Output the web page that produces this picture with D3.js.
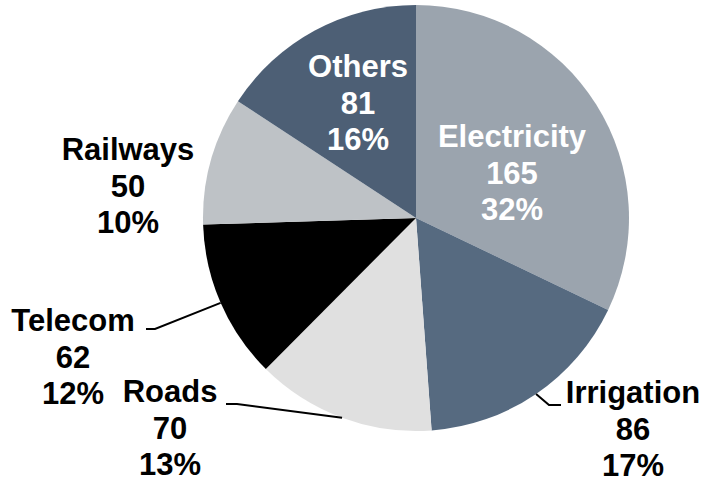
<!DOCTYPE html>
<html><head><meta charset="utf-8">
<script src="https://cdn.jsdelivr.net/npm/d3@7"></script>
<style>body{margin:0;background:#fff}svg{display:block}</style>
</head><body>
<svg id="c" width="704" height="483"></svg>
<script>
const categories = ["Electricity","Irrigation","Roads","Telecom","Railways","Others"];
const values = [165, 86, 70, 62, 50, 81];
const percents = ["32%","17%","13%","12%","10%","16%"];

const colors = ["#9ba4ae","#566a80","#e0e0e0","#000000","#bec2c6","#4d5f75"];
// label layout: position of first line baseline, text colour, leader bend/end points
const layout = [
  {x:512, y:147, fill:"#fff"},
  {x:633, y:403, fill:"#000", bend:[549,405], end:[561,405]},
  {x:170, y:402, fill:"#000", bend:[237,404], end:[226,404]},
  {x:73,  y:331, fill:"#000", bend:[155,329], end:[146,329]},
  {x:128, y:160, fill:"#000"},
  {x:358, y:77,  fill:"#fff"}
];

const cx = 416, cy = 218, r = 213;
const svg = d3.select("#c");
const g = svg.append("g").attr("transform", `translate(${cx},${cy})`);

const data = categories.map((c,i)=>({name:c, value:values[i], pct:percents[i], i}));
const pie = d3.pie().sort(null).value(d=>d.value).startAngle(0).endAngle(2*Math.PI);
const arcs = pie(data);
const arc = d3.arc().innerRadius(0).outerRadius(r);
const edge = d3.arc().innerRadius(r).outerRadius(r);

g.selectAll("path.slice").data(arcs).join("path")
  .attr("class","slice")
  .attr("d", arc)
  .attr("fill", d=>colors[d.data.i]);

// leader lines
arcs.forEach(a=>{
  const L = layout[a.data.i];
  if(!L.bend) return;
  const p = edge.centroid(a);
  const pts = [[p[0]+cx, p[1]+cy], L.bend, L.end];
  svg.append("path")
    .attr("d", d3.line()(pts))
    .attr("fill","none").attr("stroke","#000").attr("stroke-width",2);
});

// labels
arcs.forEach(a=>{
  const L = layout[a.data.i];
  const t = svg.append("text")
    .attr("x", L.x).attr("y", L.y)
    .attr("text-anchor","middle")
    .attr("font-family","'Liberation Sans', Arial, sans-serif")
    .attr("font-weight","bold")
    .attr("font-size", 31)
    .attr("fill", L.fill);
  [a.data.name, String(a.data.value), a.data.pct].forEach((s,k)=>{
    t.append("tspan").attr("x", L.x).attr("dy", k===0?0:36.5).text(s);
  });
});
</script>
</body></html>
